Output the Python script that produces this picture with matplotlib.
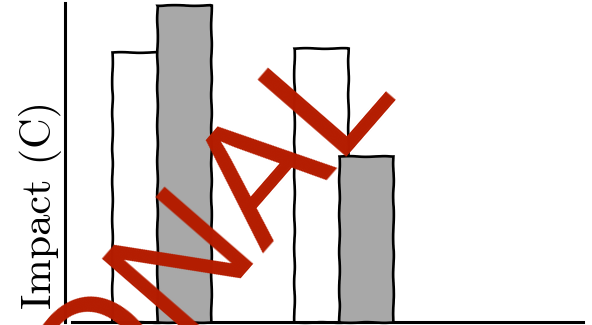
import matplotlib
matplotlib.use('Agg')
import matplotlib.pyplot as plt
import numpy as np

# chart data
categories = ["Current", "Proposed"]
without_values = [8.46, 8.59]
with_values = [9.94, 5.20]
ylabel = "Impact (C)"
watermark = "NOTIONAL"

W, H = 592, 325
fig = plt.figure(figsize=(W / 100, H / 100), dpi=100)
ax = fig.add_axes([65 / W, 3 / H, (583 - 65) / W, (322 - 3) / H])

x = np.arange(len(categories))
width = 0.295
off = 0.125

b1 = ax.bar(x - off, without_values, width, color='white', edgecolor='black',
            linewidth=1.9, clip_on=False, zorder=2)
b2 = ax.bar(x + off, with_values, width, color='#a8a8a8', edgecolor='black',
            linewidth=1.9, clip_on=False, zorder=3)
# hand-drawn look on the bar outlines
for p in list(b1) + list(b2):
    p.set_sketch_params(scale=0.35, length=40, randomness=2)

ax.set_xlim(-0.530, 2.316)
ax.set_ylim(0, 10)
ax.set_xticks([])
ax.set_yticks([])
for s in ['top', 'right']:
    ax.spines[s].set_visible(False)
ax.spines['left'].set_linewidth(2.2)
ax.spines['bottom'].set_linewidth(2.2)
ax.spines['bottom'].set_bounds(-0.49, 2.316)

# y label placed by hand (serif, large)
fig.text(41 / W, (H - 205) / H, ylabel, fontfamily='cmr10', fontsize=30.5,
         rotation=90, ha='center', va='center')

# watermark
fig.text(395.5 / W, (H - 84.5) / H, watermark, fontfamily='Liberation Sans',
         fontsize=123, color='#b41c00', rotation=49, rotation_mode='anchor',
         ha='right', va='baseline', zorder=10)

fig.savefig('out.png', dpi=100)
